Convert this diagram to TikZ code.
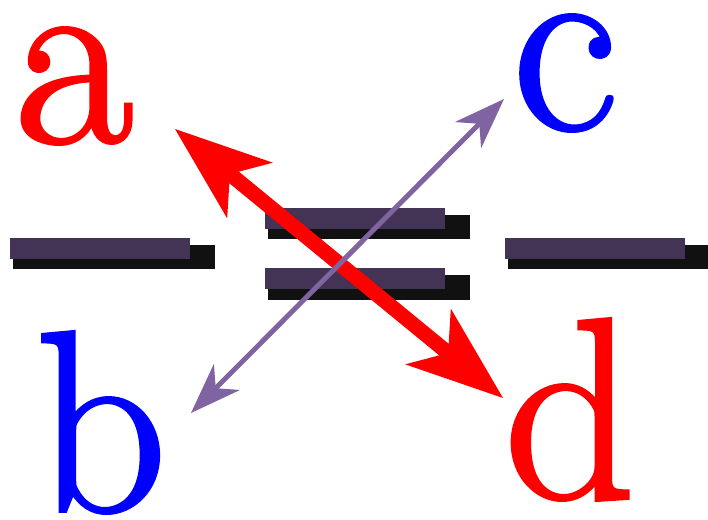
\documentclass[tikz,border=0pt]{standalone}
\usepackage{fontspec}
\newfontfamily\lettersfont[FakeBold=1.5]{Latin Modern Roman}
\usetikzlibrary{arrows.meta}
\definecolor{barpurple}{HTML}{433354}
\definecolor{barshadow}{HTML}{111111}
\definecolor{arrowpurple}{HTML}{8064A2}
\definecolor{letterred}{HTML}{FF0000}
\definecolor{letterblue}{HTML}{0000FF}
\begin{document}
\begin{tikzpicture}[x=1pt,y=-1pt,
  letter/.style={inner sep=0pt, anchor=base, font=\lettersfont\fontsize{258}{258}\selectfont},
  barfill/.style={fill=barpurple},
  shadowfill/.style={fill=barshadow}]
\useasboundingbox (0,0) rectangle (708,519);
% bars with shadows
\fill[shadowfill] (13,245) rectangle (215,269);
\fill[barfill] (10,238) rectangle (190,259);
\fill[shadowfill] (268,215) rectangle (470,239);
\fill[barfill] (265,208) rectangle (445,229);
\fill[shadowfill] (268,275) rectangle (470,300);
\fill[barfill] (265,268) rectangle (445,289);
\fill[shadowfill] (508,245) rectangle (708,269);
\fill[barfill] (505,238) rectangle (685,259);
% letters
\node[letter, text=letterred] (a) at (74,142) {a};
\node[letter, text=letterblue] (c) at (565,129) {c};
\node[letter, text=letterblue] (b) at (101,511) {b};
\node[letter, text=letterred] (d) at (570,498) {d};
% arrows
\coordinate (ra) at (175,129);
\coordinate (rd) at (503,398);
\coordinate (pb) at (191,413);
\coordinate (pc) at (504,99);
\draw[letterred, line width=15pt, {Stealth[length=97pt,width=72pt,inset=26pt,line width=0pt]}-{Stealth[length=97pt,width=72pt,inset=26pt,line width=0pt]}] (ra) -- (rd);
\draw[arrowpurple, line width=5pt, {Stealth[length=51pt,width=37pt,inset=16pt,line width=0pt]}-{Stealth[length=51pt,width=37pt,inset=16pt,line width=0pt]}] (pb) -- (pc);
\end{tikzpicture}
\end{document}
